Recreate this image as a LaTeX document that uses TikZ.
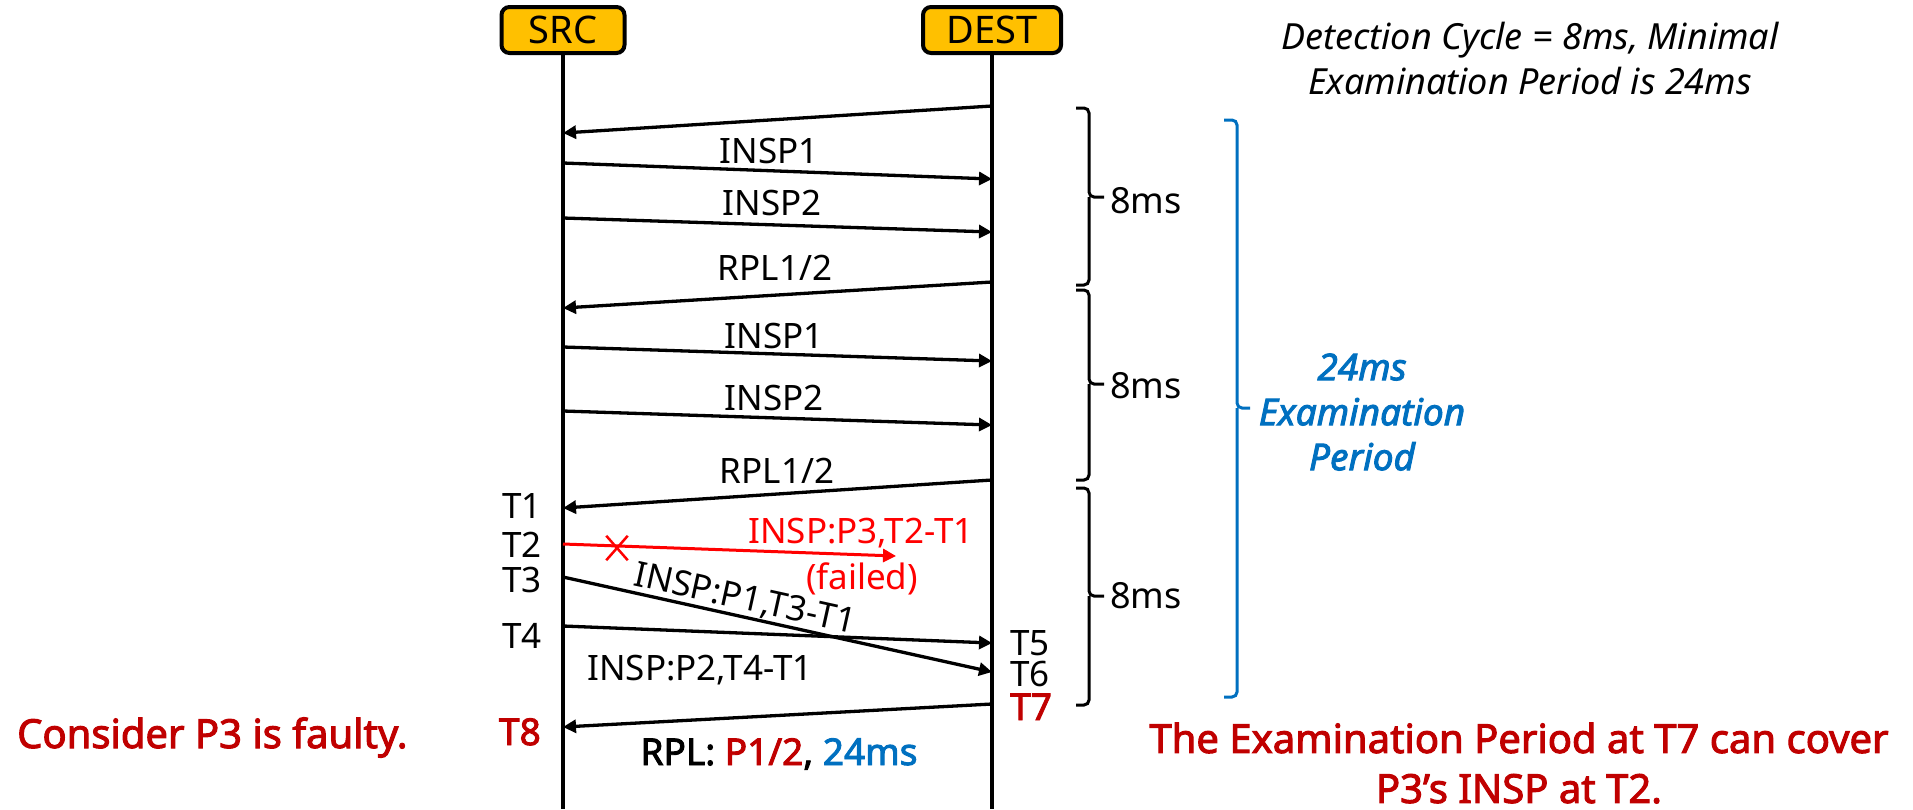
\documentclass[tikz,border=0pt]{standalone}
\usepackage{fontspec}
\setmainfont{Noto Sans}[BoldFont={Noto Sans},BoldFeatures={FakeBold=2.5},
  BoldItalicFont={Noto Sans Italic},BoldItalicFeatures={FakeBold=2.5}]
\usetikzlibrary{arrows.meta,positioning,shapes.misc}

\definecolor{srcorange}{HTML}{FFC000}
\definecolor{faultred}{HTML}{C00000}
\definecolor{periodblue}{HTML}{0070C0}
\newcommand{\pxfont}[2]{\fontsize{#1}{#2}\selectfont}

\begin{document}
\begin{tikzpicture}[x=1pt,y=-1pt,>={Triangle[length=13pt,width=13pt]},
  party/.style={draw,line width=4pt,fill=srcorange,rounded corners=8pt,minimum height=46pt,inner sep=0pt,font=\pxfont{38}{44}},
  lifeline/.style={line width=4pt},
  msg/.style={->,line width=3.3pt},
  lbl/.style={inner sep=0pt,font=\pxfont{35}{42}},
  tlbl/.style={lbl,anchor=base east},
  hot/.style={text=faultred,font=\bfseries\pxfont{37}{44}},
  bracepath/.style={line width=3pt,rounded corners=5pt}]
\useasboundingbox (0,0) rectangle (1913,809);

% the two parties
\node[party,minimum width=123pt] (SRC) at (563,30) {SRC};
\node[party,minimum width=138pt] (DEST) at (992,30) {DEST};
\coordinate (srcend) at (563,809);
\coordinate (destend) at (992,809);
\draw[lifeline] (SRC) -- (srcend);
\draw[lifeline] (DEST) -- (destend);

% message ends on the lifelines
\coordinate (d0) at (992,106);  \coordinate (s0) at (563,133);
\coordinate (s1) at (563,163);  \coordinate (d1) at (992,179);
\coordinate (s2) at (563,218);  \coordinate (d2) at (992,232);
\coordinate (d3) at (992,282);  \coordinate (s3) at (563,308);
\coordinate (s4) at (563,347);  \coordinate (d4) at (992,361);
\coordinate (s5) at (563,411);  \coordinate (d5) at (992,425);
\coordinate (d6) at (992,480);  \coordinate (s6) at (563,508);
\coordinate (s7) at (563,544);  \coordinate (lost) at (896,556);
\coordinate (s8) at (563,577);  \coordinate (d8) at (992,672);
\coordinate (s9) at (563,626);  \coordinate (d9) at (992,643);
\coordinate (d10) at (992,704); \coordinate (s10) at (563,727);

\draw[msg] (d0) -- (s0);
\draw[msg] (s1) -- (d1);
\draw[msg] (s2) -- (d2);
\draw[msg] (d3) -- (s3);
\draw[msg] (s4) -- (d4);
\draw[msg] (s5) -- (d5);
\draw[msg] (d6) -- (s6);
\draw[msg,red,line width=3pt] (s7) -- (lost);
\draw[msg] (s8) -- (d8) node[lbl,sloped,pos=0.415,above=1pt] (insp31) {INSP:P1,T3-T1};
\draw[msg] (s9) -- (d9);
\draw[msg] (d10) -- (s10);

\node[cross out,draw=red,line width=2.5pt,minimum width=19pt,minimum height=22pt,inner sep=0pt] (cross) at (617,548) {};

% message labels
\node[lbl,anchor=base] (insp1a) at (769,163) {INSP1};
\node[lbl,anchor=base] (insp2a) at (772,215) {INSP2};
\node[lbl,anchor=base] (rpla) at (775,280) {RPL1/2};
\node[lbl,anchor=base] (insp1b) at (774,348) {INSP1};
\node[lbl,anchor=base] (insp2b) at (774,410) {INSP2};
\node[lbl,anchor=base] (rplb) at (777,483) {RPL1/2};
\node[lbl,anchor=base,text=red] (insp3) at (861,543) {INSP:P3,T2-T1};
\node[lbl,anchor=base,text=red] (failed) at (862,589) {(failed)};
\node[lbl,anchor=base] (insp42) at (700,680) {INSP:P2,T4-T1};
\node[lbl,anchor=base,font=\bfseries\pxfont{37}{44}] (rplc) at (779,765) {RPL: \textcolor{faultred}{P1/2}, \textcolor{periodblue}{24ms}};

% time stamps
\node[tlbl] (T1) at (542,518) {T1};
\node[tlbl] (T2) at (542,557) {T2};
\node[tlbl] (T3) at (542,592) {T3};
\node[tlbl] (T4) at (542,648) {T4};
\node[tlbl,hot] (T8) at (541,745) {T8};
\node[lbl,anchor=base west] (T5) at (1010,655) {T5};
\node[lbl,anchor=base west] (T6) at (1010,686) {T6};
\node[lbl,anchor=base west,hot] (T7) at (1010,720) {T7};

% detection cycles
\foreach \t/\m/\b/\yl [count=\i] in {108/197/285/213, 290/384/480/398, 488/596/705/608} {
  \draw[bracepath] (1076,\t) -| (1089,\m) -- (1104,\m);
  \draw[bracepath] (1076,\b) -| (1089,\m);
  \node[lbl,anchor=base west,font=\pxfont{36}{42}] (cyc\i) at (1110,\yl) {8ms};
}

% examination period
\draw[bracepath,periodblue] (1224,120) -| (1237,408) -- (1250,408);
\draw[bracepath,periodblue] (1224,697) -| (1237,408);
\node[inner sep=0pt,align=center,text=periodblue,font=\bfseries\itshape\pxfont{37}{45}] (exam) at (1362,412) {24ms\\Examination\\Period};

\node[inner sep=0pt,align=center,font=\itshape\pxfont{36}{45}] (note) at (1530,58) {Detection Cycle = 8ms, Minimal\\Examination Period is 24ms};

% conclusions
\node[inner sep=0pt,anchor=base west,text=faultred,font=\bfseries\pxfont{40}{48}] (fault) at (17,748) {Consider P3 is faulty.};
\node[inner sep=0pt,align=center,text=faultred,font=\bfseries\pxfont{40}{50}] (cover) at (1519,763) {The Examination Period at T7 can cover\\P3’s INSP at T2.};
\end{tikzpicture}
\end{document}
